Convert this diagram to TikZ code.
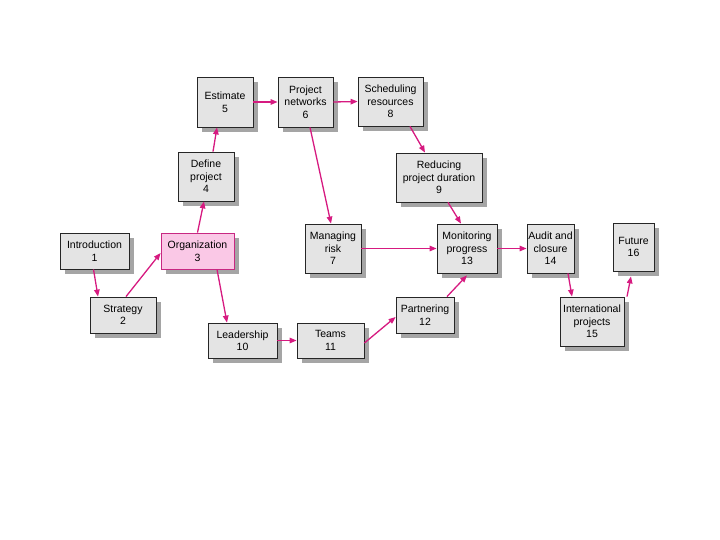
\documentclass[tikz,border=0pt]{standalone}
\usepackage{fontspec}
\setmainfont{Liberation Sans}
\usetikzlibrary{arrows.meta,shadows}
\definecolor{linkpink}{RGB}{214,26,128}
\definecolor{boxgray}{RGB}{228,228,228}
\definecolor{shadowgray}{RGB}{165,165,165}
\definecolor{orgfill}{RGB}{250,200,230}
\definecolor{orgline}{RGB}{200,40,130}

\begin{document}
\begin{tikzpicture}[x=1pt, y=-1pt,
  block/.style={draw=black!85, fill=boxgray, line width=0.8pt, align=center, inner sep=1pt,
    font=\fontsize{10.5}{12.5}\selectfont,
    drop shadow={fill=shadowgray, opacity=1, shadow xshift=5pt, shadow yshift=-5pt}},
  link/.style={draw=linkpink, line width=1.3pt, -{Triangle[length=7pt,width=5.5pt]}}
]
\useasboundingbox (0,0) rectangle (720,540);

\node[block, minimum width=69pt, minimum height=36pt] (intro) at (94.5,251) {Introduction\\1};
\node[block, minimum width=66pt, minimum height=36pt] (strategy) at (123,315) {Strategy\\2};
\node[block, fill=orgfill, draw=orgline, minimum width=73pt, minimum height=36pt] (org) at (197.5,251) {Organization\\3};
\node[block, minimum width=56pt, minimum height=49pt] (define) at (206,176.5) {Define\\project\\4};
\node[block, minimum width=56pt, minimum height=50pt] (estimate) at (225,102) {Estimate\\5};
\node[block, minimum width=55pt, minimum height=50pt] (networks) at (305.5,102) {Project\\networks\\6};
\node[block, minimum width=65pt, minimum height=49pt] (sched) at (390.5,101.5) {Scheduling\\resources\\8};
\node[block, minimum width=86pt, minimum height=49pt] (reducing) at (439,177.5) {Reducing\\project duration\\9};
\node[block, minimum width=56pt, minimum height=49pt] (managing) at (333,248.5) {Managing\\risk\\7};
\node[block, minimum width=60pt, minimum height=49pt] (monitoring) at (467,248.5) {Monitoring\\progress\\13};
\node[block, minimum width=47pt, minimum height=49pt] (audit) at (550.5,248.5) {Audit and\\closure\\14};
\node[block, minimum width=41pt, minimum height=48pt] (future) at (633.5,247) {Future\\16};
\node[block, minimum width=64pt, minimum height=49pt] (intl) at (592,321.5) {International\\projects\\15};
\node[block, minimum width=58pt, minimum height=36pt] (partner) at (425,315) {Partnering\\12};
\node[block, minimum width=69pt, minimum height=35pt] (leader) at (242.5,340.5) {Leadership\\10};
\node[block, minimum width=67pt, minimum height=35pt] (teams) at (330.5,340.5) {Teams\\11};

\draw[link] ([xshift=-1pt]intro.south) -- ([xshift=-25pt]strategy.north);
\draw[link] ([xshift=3pt]strategy.north) -- ([yshift=-2pt]org.west);
\draw[link] (org.north) -- ([xshift=-2pt]define.south);
\draw[link] ([xshift=7pt]define.north) -- ([xshift=-8pt]estimate.south);
\draw[link] (estimate.east) -- (networks.west);
\draw[link] (networks.east) -- (sched.west);
\draw[link] ([xshift=4.5pt]networks.south) -- ([xshift=-2pt]managing.north);
\draw[link] ([xshift=19.5pt]sched.south) -- ([xshift=-14pt]reducing.north);
\draw[link] ([xshift=9pt]reducing.south) -- ([xshift=-6pt]monitoring.north);
\draw[link] (managing.east) -- (monitoring.west);
\draw[link] (monitoring.east) -- (audit.west);
\draw[link] ([xshift=17.5pt]audit.south) -- ([xshift=-20pt]intl.north);
\draw[link] ([xshift=35pt]intl.north) -- ([xshift=-2.5pt,yshift=-5pt]future.south);
\draw[link] ([xshift=19.5pt]org.south) -- ([xshift=-15.5pt]leader.north);
\draw[link] (leader.east) -- (teams.west);
\draw[link] ([yshift=-2.5pt]teams.east) -- ([yshift=-2pt]partner.west);
\draw[link] ([xshift=22pt]partner.north) -- ([yshift=-2pt]monitoring.south);
\end{tikzpicture}
\end{document}
